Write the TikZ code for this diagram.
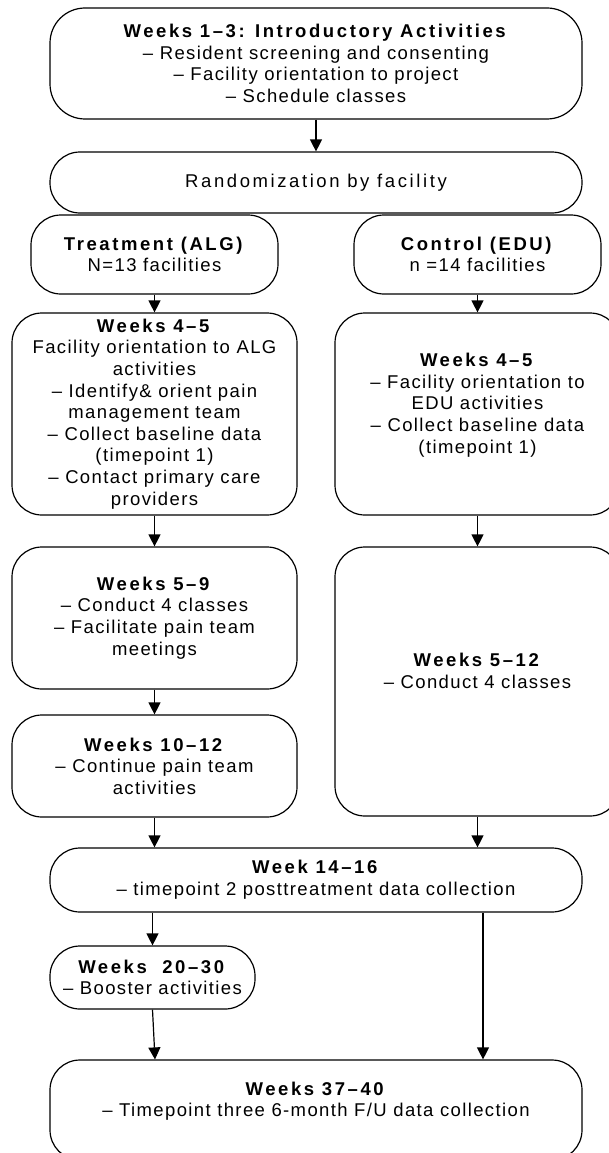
\documentclass[tikz,border=0pt]{standalone}
\usepackage{fontspec}
\setmainfont{Liberation Sans}[LetterSpace=7.5, BoldFeatures={LetterSpace=14}]
\usetikzlibrary{arrows.meta}
\begin{document}
\begin{tikzpicture}[x=1pt, y=-1pt, every node/.style={font=\fontsize{18.5}{21.6}\selectfont},
    box/.style={draw, line width=1.2pt, rounded corners=30pt, align=center, inner sep=0pt},
    arr/.style={line width=1.2pt, -{Triangle[length=12pt, width=12pt]}}]
    \useasboundingbox (0,0) rectangle (609,1153);
    \node[box, rounded corners=35pt, minimum width=532pt, minimum height=111pt] (intro) at (316,63.5)
        {\textbf{Weeks 1–3: Introductory Activities}\\– Resident screening and consenting\\– Facility orientation to project\\– Schedule classes};
    \node[box, minimum width=532pt, minimum height=61pt] (rand) at (316,182.5)
        {\addfontfeature{LetterSpace=14}Randomization by facility};
    \node[box, minimum width=247pt, minimum height=79pt] (trt) at (154.5,254.5) {\textbf{Treatment (ALG)}\\N=13 facilities};
    \node[box, minimum width=247pt, minimum height=79pt] (ctl) at (477.5,254.5) {\textbf{Control (EDU)}\\n =14 facilities};
    \node[box, minimum width=285pt, minimum height=202pt] (alg45) at (154.5,414)
        {\textbf{Weeks 4–5}\\Facility orientation to ALG\\activities\\– Identify\& orient pain\\management team\\– Collect baseline data\\(timepoint 1)\\– Contact primary care\\providers};
    \node[box, minimum width=285pt, minimum height=202pt] (edu45) at (477.5,414)
        {\textbf{Weeks 4–5}\\– Facility orientation to\\EDU activities\\– Collect baseline data\\(timepoint 1)\\\mbox{}};
    \node[box, minimum width=285pt, minimum height=142pt] (w59) at (154.5,618)
        {\textbf{Weeks 5–9}\\– Conduct 4 classes\\– Facilitate pain team\\meetings};
    \node[box, minimum width=285pt, minimum height=269pt] (edu512) at (477.5,681.5)
        {\textbf{Weeks 5–12}\\– Conduct 4 classes\\\mbox{}};
    \node[box, minimum width=285pt, minimum height=102pt] (w1012) at (154.5,766)
        {\textbf{Weeks 10–12}\\– Continue pain team\\activities};
    \node[box, minimum width=532pt, minimum height=64pt] (wk14) at (316,880)
        {\textbf{Week 14–16}\\– timepoint 2 posttreatment data collection};
    \node[box, minimum width=205pt, minimum height=63pt] (w2030) at (152.5,977.5)
        {\textbf{Weeks~~20–30}\\– Booster activities};
    \node[box, minimum width=532pt, minimum height=100pt] (fu) at (316,1110)
        {\textbf{Weeks 37–40}\\– Timepoint three 6-month F/U data collection\\\mbox{}};
    \coordinate (rx) at (483,0);
    \coordinate (bx) at (155,0);
    \draw[arr] (intro.south) -- (rand.north);
    \draw[arr] (trt.south) -- (alg45.north);
    \draw[arr] (ctl.south) -- (edu45.north);
    \draw[arr] (alg45.south) -- (w59.north);
    \draw[arr] (edu45.south) -- (edu512.north);
    \draw[arr] (w59.south) -- (w1012.north);
    \draw[arr] (w1012.south) -- (w1012.south |- wk14.north);
    \draw[arr] (edu512.south) -- (edu512.south |- wk14.north);
    \draw[arr] (wk14.south -| w2030.north) -- (w2030.north);
    \draw[arr] (wk14.south -| rx) -- (fu.north -| rx);
    \draw[arr] (w2030.south) -- (fu.north -| bx);
\end{tikzpicture}
\end{document}
